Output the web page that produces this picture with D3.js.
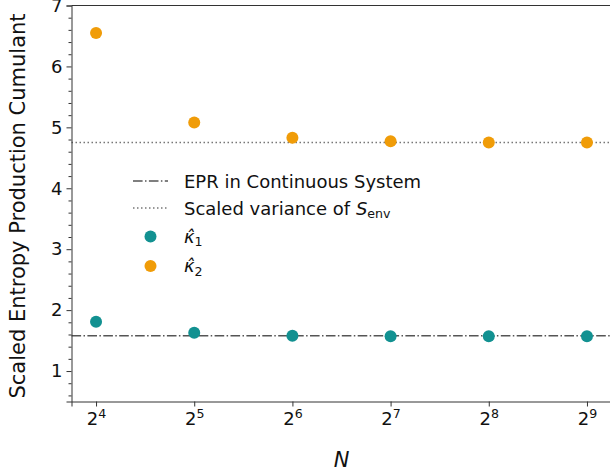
<!DOCTYPE html>
<html lang="en">
<head>
<meta charset="UTF-8">
<title>Scaled cumulants</title>
<script src="https://d3js.org/d3.v7.min.js"></script>
<style>
  body { margin: 0; background: #fff; }
  svg { font-family: "DejaVu Sans", sans-serif; }
</style>
</head>
<body>
<div id="chart"></div>
<script>
// data
const exponents = [4, 5, 6, 7, 8, 9];
const kappa1 = [1.81, 1.63, 1.58, 1.57, 1.57, 1.57];
const kappa2 = [6.55, 5.08, 4.83, 4.77, 4.75, 4.75];
const eprContinuous = 1.58;
const scaledVarSenv = 4.75;
const yTicks = [1, 2, 3, 4, 5, 6, 7];

const width = 610, height = 476;
const mLeft = 71.5, mTop = 5.5, mBottom = 401.5, mRight = 611.5;
const FONT = "DejaVu Sans";

const svg = d3.select("#chart").append("svg")
  .attr("width", width).attr("height", height)
  .attr("font-family", FONT);

const x = d3.scaleLog().base(2)
  .domain([Math.pow(2, 3.75), Math.pow(2, 9.25)])
  .range([mLeft, mRight]);
const y = d3.scaleLinear().domain([0.5, 7]).range([mBottom, mTop]);

const teal = "#129191";
const orange = "#f09c08";

// reference lines
svg.append("line")
  .attr("x1", mLeft).attr("x2", width)
  .attr("y1", y(eprContinuous)).attr("y2", y(eprContinuous))
  .attr("stroke", "#555").attr("stroke-width", 1.5)
  .attr("stroke-dasharray", "9.6,2.4,1.5,2.4");
svg.append("line")
  .attr("x1", mLeft).attr("x2", width)
  .attr("y1", y(scaledVarSenv)).attr("y2", y(scaledVarSenv))
  .attr("stroke", "#777").attr("stroke-width", 1.5)
  .attr("stroke-dasharray", "1.5,2.5");

// points
const N = exponents.map(e => Math.pow(2, e));
svg.selectAll("circle.k1").data(N).enter().append("circle")
  .attr("cx", d => x(d)).attr("cy", (d, i) => y(kappa1[i]))
  .attr("r", 6).attr("fill", teal);
svg.selectAll("circle.k2").data(N).enter().append("circle")
  .attr("cx", d => x(d)).attr("cy", (d, i) => y(kappa2[i]))
  .attr("r", 6).attr("fill", orange);

// axes
const yAxis = svg.append("g").attr("transform", `translate(${mLeft},0)`)
  .call(d3.axisLeft(y).tickValues(yTicks).tickSize(5).tickPadding(4).tickFormat(d3.format("d")))
  .attr("font-family", FONT);
yAxis.selectAll("text").attr("font-size", 18).attr("fill", "#111");
const minorY = d3.range(0.6, 7, 0.2).filter(v => Math.abs(v - Math.round(v)) > 0.01);
svg.append("g").attr("transform", `translate(${mLeft},0)`)
  .call(d3.axisLeft(y).tickValues(minorY).tickSize(3).tickFormat(""))
  .select(".domain").remove();

const xAxis = svg.append("g").attr("transform", `translate(0,${mBottom})`)
  .call(d3.axisBottom(x).tickValues(N).tickSize(5).tickPadding(6).tickFormat(""))
  .attr("font-family", FONT);
xAxis.selectAll(".tick").append("text")
  .attr("y", 23.5).attr("text-anchor", "middle").attr("fill", "#111").attr("font-size", 18)
  .each(function(d) {
    const t = d3.select(this);
    t.append("tspan").text("2");
    t.append("tspan").attr("dy", -7).attr("font-size", 12.6).text(Math.log2(d));
  });

[yAxis, xAxis].forEach(a => a.select(".domain").attr("stroke", "#333"));
svg.selectAll(".tick line").attr("stroke", "#333");

// top spine
svg.append("line").attr("x1", mLeft).attr("x2", width)
  .attr("y1", mTop).attr("y2", mTop).attr("stroke", "#333");

// axis labels
svg.append("text")
  .attr("transform", `translate(25,206) rotate(-90)`)
  .attr("text-anchor", "middle").attr("font-size", 21).attr("fill", "#111")
  .text("Scaled Entropy Production Cumulant");
svg.append("text")
  .attr("x", (mLeft + mRight) / 2).attr("y", 467)
  .attr("text-anchor", "middle").attr("font-size", 21).attr("font-style", "italic").attr("fill", "#111")
  .text("N");

// legend
const lg = svg.append("g");
const rows = [181, 208, 236.5, 266];
lg.append("line").attr("x1", 133).attr("x2", 168).attr("y1", rows[0]).attr("y2", rows[0])
  .attr("stroke", "#555").attr("stroke-width", 1.5).attr("stroke-dasharray", "9.6,2.4,1.5,2.4");
lg.append("line").attr("x1", 133).attr("x2", 168).attr("y1", rows[1]).attr("y2", rows[1])
  .attr("stroke", "#777").attr("stroke-width", 1.5).attr("stroke-dasharray", "1.5,2.5");
lg.append("circle").attr("cx", 150.5).attr("cy", rows[2]).attr("r", 6).attr("fill", teal);
lg.append("circle").attr("cx", 150.5).attr("cy", rows[3]).attr("r", 6).attr("fill", orange);

const tx = 184;
lg.append("text").attr("x", tx).attr("y", rows[0] + 6.5).attr("font-size", 18).attr("fill", "#111")
  .text("EPR in Continuous System");
const t2 = lg.append("text").attr("x", tx).attr("y", rows[1] + 6.5).attr("font-size", 18).attr("fill", "#111");
t2.append("tspan").text("Scaled variance of ");
t2.append("tspan").attr("font-style", "italic").text("S");
t2.append("tspan").attr("dy", 3).attr("font-size", 12.6).text("env");

[["1", rows[2]], ["2", rows[3]]].forEach(([s, r]) => {
  const t = lg.append("text").attr("x", tx).attr("y", r + 6).attr("font-size", 18).attr("fill", "#111");
  t.append("tspan").attr("font-style", "italic").text("\u03ba\u0302");
  t.append("tspan").attr("dy", 3.5).attr("font-size", 12.6).text(s);
});
</script>
</body>
</html>
